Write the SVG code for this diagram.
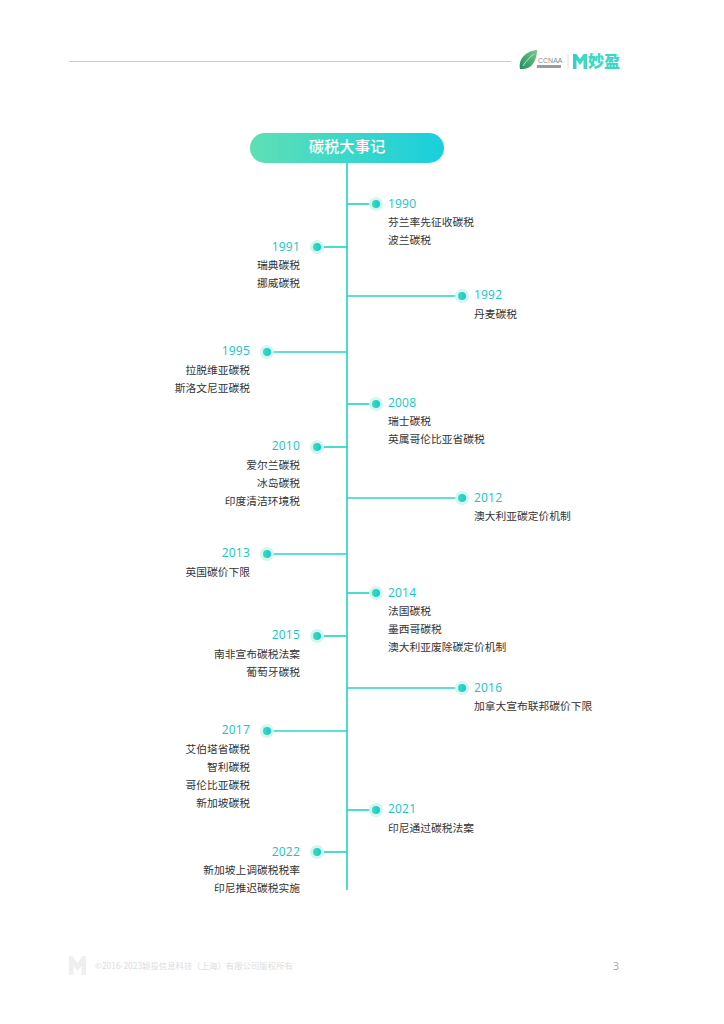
<svg xmlns="http://www.w3.org/2000/svg" width="724" height="1024" viewBox="0 0 724 1024">
<defs>
<linearGradient id="hg" x1="0" y1="0" x2="1" y2="0"><stop offset="0" stop-color="#5fdfb4"/><stop offset="1" stop-color="#19cfdd"/></linearGradient>
<linearGradient id="dg" x1="0" y1="0" x2="1" y2="0"><stop offset="0" stop-color="#3cdcb8"/><stop offset="1" stop-color="#16c8cf"/></linearGradient>
<linearGradient id="lg" x1="0" y1="1" x2="1" y2="0"><stop offset="0" stop-color="#1f8f5f"/><stop offset="1" stop-color="#7cc88a"/></linearGradient>
<linearGradient id="mg" x1="0" y1="0" x2="1" y2="0"><stop offset="0" stop-color="#32cfc8"/><stop offset="1" stop-color="#40dcc0"/></linearGradient>
</defs>
<style>
text{font-family:"Noto Sans CJK SC","Noto Sans",sans-serif}
.y{font-family:"Open Sans","Noto Sans",sans-serif;font-size:12px;font-weight:500;fill:#17c4c4;letter-spacing:.2px}
.t{font-size:10.75px;fill:#333}
.r{text-anchor:end}
.h{fill:#d4f6f1}
.d{fill:url(#dg)}
.c{stroke:#2dd5c9;stroke-width:1.7;fill:none}
</style>
<line x1="69" y1="61.500" x2="511" y2="61.500" stroke="#bdbdbd" stroke-width=".8"/>
<g id="logo">
<path d="M520 69C518 60 525 51 537 50C537 60 532 69 523 69Z" fill="url(#lg)"/>
<path d="M523 66C526 61 530 57 534 54" stroke="#dff3e0" stroke-width=".8" fill="none"/>
<text x="538" y="63" font-size="7" fill="#8a8a8a" style="font-family:'Liberation Sans',sans-serif">CCNAA</text>
<rect x="537" y="65" width="24" height="3" fill="#9a9a9a"/>
<line x1="568" y1="54" x2="568" y2="69" stroke="#d8d8d8" stroke-width=".8"/>
<path d="M573 54L576.500 54L580 59L583.500 54L587 54L587 69L583.500 69L583.500 60L580 65L576.500 60L576.500 69L573 69Z" fill="url(#mg)"/>
<text x="588" y="67" font-size="16" font-weight="900" fill="#38d8c4">妙盈</text>
</g>
<g id="connectors">
<line class="c" x1="347" y1="163" x2="347" y2="890"/>
<line class="c" x1="347" y1="204" x2="376" y2="204"/>
<line class="c" x1="317" y1="247" x2="347" y2="247"/>
<line class="c" x1="347" y1="296" x2="462" y2="296"/>
<line class="c" x1="267" y1="352" x2="347" y2="352"/>
<line class="c" x1="347" y1="404" x2="376" y2="404"/>
<line class="c" x1="317" y1="447" x2="347" y2="447"/>
<line class="c" x1="347" y1="498" x2="462" y2="498"/>
<line class="c" x1="267" y1="554" x2="347" y2="554"/>
<line class="c" x1="347" y1="593" x2="376" y2="593"/>
<line class="c" x1="317" y1="636" x2="347" y2="636"/>
<line class="c" x1="347" y1="688" x2="462" y2="688"/>
<line class="c" x1="267" y1="731" x2="347" y2="731"/>
<line class="c" x1="347" y1="810" x2="376" y2="810"/>
<line class="c" x1="317" y1="852" x2="347" y2="852"/>
</g>
<g id="header"><rect x="250" y="133" width="194" height="30" rx="15" fill="url(#hg)"/><text x="347" y="152" font-size="15.300" font-weight="500" fill="#fff" text-anchor="middle">碳税大事记</text></g>
<g id="n1990"><circle class="h" cx="376" cy="204" r="7"/><circle class="d" cx="376" cy="204" r="4"/><text class="y" x="388" y="208">1990</text><text class="t" x="388" y="225.500">芬兰率先征收碳税</text><text class="t" x="388" y="243.500">波兰碳税</text></g>
<g id="n1991"><circle class="h" cx="317" cy="247" r="7"/><circle class="d" cx="317" cy="247" r="4"/><text class="y r" x="300" y="251">1991</text><text class="t r" x="300" y="268.500">瑞典碳税</text><text class="t r" x="300" y="286.500">挪威碳税</text></g>
<g id="n1992"><circle class="h" cx="462" cy="296" r="7"/><circle class="d" cx="462" cy="296" r="4"/><text class="y" x="474" y="299">1992</text><text class="t" x="474" y="317.500">丹麦碳税</text></g>
<g id="n1995"><circle class="h" cx="267" cy="352" r="7"/><circle class="d" cx="267" cy="352" r="4"/><text class="y r" x="250" y="355">1995</text><text class="t r" x="250" y="373.500">拉脱维亚碳税</text><text class="t r" x="250" y="391.500">斯洛文尼亚碳税</text></g>
<g id="n2008"><circle class="h" cx="376" cy="404" r="7"/><circle class="d" cx="376" cy="404" r="4"/><text class="y" x="388" y="407">2008</text><text class="t" x="388" y="424.500">瑞士碳税</text><text class="t" x="388" y="442.500">英属哥伦比亚省碳税</text></g>
<g id="n2010"><circle class="h" cx="317" cy="447" r="7"/><circle class="d" cx="317" cy="447" r="4"/><text class="y r" x="300" y="450">2010</text><text class="t r" x="300" y="468.500">爱尔兰碳税</text><text class="t r" x="300" y="486.500">冰岛碳税</text><text class="t r" x="300" y="504.500">印度清洁环境税</text></g>
<g id="n2012"><circle class="h" cx="462" cy="498" r="7"/><circle class="d" cx="462" cy="498" r="4"/><text class="y" x="474" y="501.500">2012</text><text class="t" x="474" y="519.500">澳大利亚碳定价机制</text></g>
<g id="n2013"><circle class="h" cx="267" cy="554" r="7"/><circle class="d" cx="267" cy="554" r="4"/><text class="y r" x="250" y="557">2013</text><text class="t r" x="250" y="575.500">英国碳价下限</text></g>
<g id="n2014"><circle class="h" cx="376" cy="593" r="7"/><circle class="d" cx="376" cy="593" r="4"/><text class="y" x="388" y="596.500">2014</text><text class="t" x="388" y="614.500">法国碳税</text><text class="t" x="388" y="632.500">墨西哥碳税</text><text class="t" x="388" y="650.500">澳大利亚废除碳定价机制</text></g>
<g id="n2015"><circle class="h" cx="317" cy="636" r="7"/><circle class="d" cx="317" cy="636" r="4"/><text class="y r" x="300" y="639">2015</text><text class="t r" x="300" y="657.500">南非宣布碳税法案</text><text class="t r" x="300" y="675.500">葡萄牙碳税</text></g>
<g id="n2016"><circle class="h" cx="462" cy="688" r="7"/><circle class="d" cx="462" cy="688" r="4"/><text class="y" x="474" y="691.500">2016</text><text class="t" x="474" y="709.500">加拿大宣布联邦碳价下限</text></g>
<g id="n2017"><circle class="h" cx="267" cy="731" r="7"/><circle class="d" cx="267" cy="731" r="4"/><text class="y r" x="250" y="734">2017</text><text class="t r" x="250" y="752.500">艾伯塔省碳税</text><text class="t r" x="250" y="770.500">智利碳税</text><text class="t r" x="250" y="788.500">哥伦比亚碳税</text><text class="t r" x="250" y="806.500">新加坡碳税</text></g>
<g id="n2021"><circle class="h" cx="376" cy="810" r="7"/><circle class="d" cx="376" cy="810" r="4"/><text class="y" x="388" y="813">2021</text><text class="t" x="388" y="831.500">印尼通过碳税法案</text></g>
<g id="n2022"><circle class="h" cx="317" cy="852" r="7"/><circle class="d" cx="317" cy="852" r="4"/><text class="y r" x="300" y="855.500">2022</text><text class="t r" x="300" y="873.500">新加坡上调碳税税率</text><text class="t r" x="300" y="891.500">印尼推迟碳税实施</text></g>
<g id="footer">
<path d="M69 956L72.500 956L77.500 963L82.500 956L86 956L86 975L81.500 975L81.500 966L77.500 971L73.500 966L73.500 975L69 975Z" fill="#efefef"/>
<text x="95" y="968.500" font-size="8.400" fill="#dcdcdc">©2016-2023颖投信息科技（上海）有限公司版权所有</text>
<text x="616" y="970" font-size="11" fill="#a8a8a8" text-anchor="middle" style="font-family:'Open Sans',sans-serif">3</text>
</g>
</svg>
